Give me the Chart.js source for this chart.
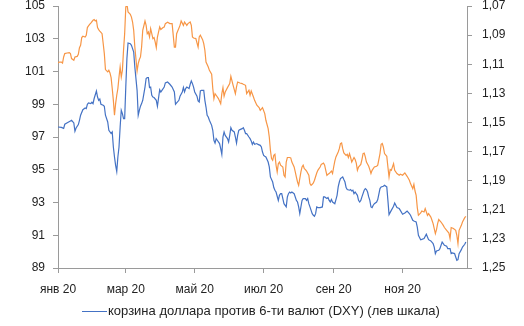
<!DOCTYPE html>
<html lang="ru">
<head>
<meta charset="utf-8">
<title>DXY и EUR/USD, 2020</title>
<script src="https://cdn.jsdelivr.net/npm/chart.js@4.4.1/dist/chart.umd.min.js"></script>
<style>
  html, body { margin: 0; padding: 0; background: #fff; }
  #wrap { position: relative; width: 524px; height: 326px; }
  #legend {
    position: absolute; left: 82px; top: 303px;
    font: 13px "Liberation Sans", Arial, sans-serif; color: #222;
    line-height: 16px; white-space: nowrap;
  }
  #legend .swatch {
    display: inline-block; width: 25px; height: 0;
    border-top: 1.3px solid #4472C4; vertical-align: middle; margin-right: 1px;
  }
</style>
</head>
<body>
<div id="wrap">
  <canvas id="chart" width="524" height="326"></canvas>
  <div id="legend"><span class="swatch"></span>корзина доллара против 6-ти валют (DXY) (лев шкала)</div>
</div>
<script>
// дни от 1 января 2020
const tickDays = [0, 60, 121, 182, 244, 305];
const tickLabels = ['янв 20', 'мар 20', 'май 20', 'июл 20', 'сен 20', 'ноя 20'];

// DXY (левая шкала)
const dxyDays = [0,3,5,6,9,11,12,14,15,16,18,19,20,22,24,25,26,27,29,30,31,32,34,35,36,37,38,40,41,42,44,45,47,48,49,50,51,52,53,54,55,56,57,58,59,60,61,62,64,65,66,67,68,70,71,72,73,74,75,77,78,79,80,81,82,83,84,85,87,88,90,91,92,94,95,97,99,101,103,104,105,107,108,110,111,112,113,114,116,117,118,119,120,121,123,124,125,126,127,129,130,131,132,133,134,136,137,138,139,140,141,143,144,145,146,147,148,150,151,152,153,154,156,157,158,159,160,161,163,164,165,166,167,169,170,171,172,173,174,176,177,179,180,181,182,183,184,186,187,188,190,191,192,193,195,196,197,198,199,200,202,203,204,205,206,207,209,210,211,212,213,214,215,216,217,219,220,221,222,223,225,226,227,228,229,230,232,234,235,236,238,239,240,241,242,243,245,246,247,248,249,250,252,253,254,255,256,258,259,260,261,262,263,265,266,267,268,269,271,272,273,274,275,276,277,278,279,280,282,283,285,286,288,289,291,292,293,295,297,298,300,302,303,305,307,309,311,312,314,315,317,318,319,321,322,324,326,327,328,330,332,333,334,335,337,338,340,341,342,344,345,347,348,349,351,352,353,354,355,357,358,360,361];
const dxyValues = [97.61,97.59,97.53,97.78,97.90,97.98,98.02,97.86,97.35,97.55,97.76,98.02,98.33,98.67,98.77,98.73,99.00,99.08,99.04,99.12,99.04,99.35,99.81,99.44,99.24,99.32,99.00,98.94,98.88,98.33,97.92,97.41,97.21,97.31,96.39,95.78,95.27,94.90,95.78,96.39,97.61,98.63,98.43,98.12,98.12,100.05,101.79,102.74,102.70,102.60,102.40,102.19,101.27,99.85,98.33,98.63,98.88,99.04,99.24,100.05,100.57,100.63,100.63,100.02,100.05,99.55,99.44,99.41,99.24,98.88,99.89,99.75,99.85,100.05,100.30,100.36,100.22,100.05,99.75,99.00,99.08,99.24,99.49,99.75,100.02,99.75,99.96,100.05,99.96,100.22,100.42,100.26,100.05,99.75,99.49,99.20,99.14,99.81,99.85,99.85,99.24,98.83,98.33,98.22,98.02,97.71,97.41,96.80,96.63,96.90,96.80,96.60,96.29,95.94,97.00,97.31,97.10,96.90,96.69,97.10,97.57,97.41,97.31,97.00,96.63,97.10,97.41,97.45,97.51,97.57,97.41,97.21,97.21,97.00,96.90,96.76,96.55,96.69,96.55,96.60,96.55,96.49,96.39,96.08,95.88,95.82,95.78,95.47,95.17,94.56,94.25,93.91,93.75,93.64,93.13,93.44,93.54,93.54,93.24,92.93,92.73,93.34,93.54,93.64,93.58,93.64,93.54,93.34,93.13,93.03,92.73,92.32,92.73,93.13,93.24,93.24,93.13,93.24,92.93,92.73,92.32,92.22,92.16,92.32,92.73,92.69,92.69,92.73,93.34,93.34,93.24,93.30,93.13,93.03,93.18,93.03,92.93,93.18,93.44,93.95,94.25,94.46,94.56,94.40,94.25,93.91,93.79,93.75,93.79,93.70,93.75,93.54,93.64,93.44,93.13,93.03,93.13,93.34,93.75,93.85,93.79,93.64,93.34,93.13,92.73,92.69,92.83,92.93,93.03,93.18,93.85,93.95,93.99,94.05,93.95,93.13,92.26,92.52,92.77,92.97,92.69,92.63,92.52,92.28,92.36,92.48,92.32,92.22,91.91,91.87,91.81,91.50,91.00,90.73,90.75,90.80,91.06,90.89,90.73,90.65,90.49,90.28,89.88,90.04,90.08,90.18,90.59,90.49,90.39,90.33,90.18,90.18,89.88,89.92,89.88,89.67,89.47,89.51,89.88,90.12,90.28,90.45,90.59];

// EUR/USD (правая шкала, перевёрнутая)
const eurDays = [0,1,3,4,5,6,8,10,11,12,14,15,17,18,19,20,21,22,24,25,26,27,28,29,31,32,33,34,35,36,37,38,39,40,41,42,44,45,46,47,48,49,50,51,52,53,54,55,56,57,58,59,60,61,62,64,65,66,67,68,70,71,72,73,74,75,77,78,79,80,81,82,84,85,86,87,88,90,91,92,93,94,95,97,99,101,103,104,105,108,109,111,112,114,115,117,118,119,120,122,124,125,126,128,129,130,131,133,134,136,137,138,139,140,142,144,145,146,147,148,150,152,153,155,157,158,159,161,163,164,166,167,169,170,171,173,174,176,178,179,181,183,184,186,187,188,189,190,191,192,193,194,195,196,197,199,200,201,202,203,205,206,207,209,210,211,212,213,215,216,217,218,219,220,222,223,224,225,226,227,229,230,231,232,233,235,236,237,238,239,240,242,243,244,245,246,248,249,250,251,252,253,255,256,257,258,259,260,262,263,264,265,266,268,269,270,271,272,273,275,276,277,278,280,282,283,285,286,287,288,289,291,292,293,294,295,297,298,300,302,303,305,307,309,311,312,314,315,316,317,318,319,321,322,324,325,327,328,330,331,332,334,335,336,337,339,341,342,344,346,347,348,350,352,353,354,355,357,358,360,361];
const eurValues = [1.1092,1.1085,1.1085,1.1092,1.1050,1.1027,1.1023,1.1020,1.1027,1.1061,1.1073,1.1050,1.1046,1.1032,1.0986,1.0970,1.0917,1.0908,1.0913,1.0901,1.0848,1.0837,1.0826,1.0817,1.0798,1.0793,1.0803,1.0798,1.0848,1.0862,1.0872,1.0881,1.0890,1.0958,1.1027,1.1137,1.1153,1.1142,1.1160,1.1192,1.1267,1.1348,1.1451,1.1371,1.1313,1.1267,1.1188,1.1119,1.1188,1.1142,1.1004,1.0890,1.0707,1.0685,1.0741,1.0757,1.0776,1.0810,1.0867,1.0982,1.1147,1.1096,1.1068,1.1050,1.0982,1.0867,1.0803,1.0833,1.0890,1.0879,1.0913,1.0855,1.0924,1.0917,1.0947,1.0986,1.0913,1.0844,1.0862,1.0855,1.0848,1.0844,1.0821,1.0812,1.0821,1.0821,1.0982,1.0982,1.0890,1.0833,1.0803,1.0833,1.0810,1.0833,1.0821,1.0810,1.0833,1.0913,1.0920,1.0924,1.0982,1.0913,1.0901,1.0931,1.0958,1.1004,1.1085,1.1119,1.1142,1.1169,1.1267,1.1336,1.1302,1.1313,1.1336,1.1371,1.1302,1.1261,1.1320,1.1291,1.1261,1.1233,1.1183,1.1245,1.1302,1.1256,1.1222,1.1229,1.1233,1.1238,1.1245,1.1302,1.1279,1.1313,1.1284,1.1325,1.1348,1.1382,1.1398,1.1417,1.1398,1.1439,1.1485,1.1542,1.1600,1.1691,1.1748,1.1760,1.1726,1.1719,1.1794,1.1840,1.1783,1.1772,1.1794,1.1806,1.1863,1.1875,1.1772,1.1741,1.1741,1.1744,1.1772,1.1806,1.1840,1.1875,1.1909,1.1932,1.1840,1.1806,1.1794,1.1817,1.1824,1.1834,1.1863,1.1920,1.1932,1.1925,1.1916,1.1897,1.1847,1.1829,1.1817,1.1806,1.1788,1.1779,1.1794,1.1829,1.1863,1.1856,1.1851,1.1834,1.1851,1.1806,1.1765,1.1737,1.1703,1.1680,1.1645,1.1641,1.1680,1.1710,1.1726,1.1719,1.1741,1.1714,1.1741,1.1772,1.1741,1.1755,1.1779,1.1829,1.1806,1.1788,1.1755,1.1714,1.1710,1.1737,1.1772,1.1801,1.1824,1.1851,1.1829,1.1806,1.1801,1.1794,1.1714,1.1650,1.1645,1.1669,1.1714,1.1733,1.1806,1.1875,1.1824,1.1829,1.1783,1.1829,1.1851,1.1863,1.1856,1.1863,1.1847,1.1870,1.1897,1.1920,1.1955,1.1925,1.1971,1.2001,1.2085,1.2138,1.2122,1.2108,1.2115,1.2092,1.2138,1.2126,1.2150,1.2172,1.2195,1.2264,1.2236,1.2195,1.2167,1.2184,1.2207,1.2222,1.2241,1.2260,1.2298,1.2222,1.2229,1.2241,1.2275,1.2332,1.2241,1.2207,1.2184,1.2154,1.2145];

const FONT = { family: '"Liberation Sans", Arial, sans-serif', size: 12 };
const AXIS_GREY = '#9a9a9a';
const TEXT = '#222';

const toPoints = (days, vals) => days.map((d, i) => ({ x: d, y: vals[i] }));

new Chart(document.getElementById('chart'), {
    type: 'line',
    data: {
        datasets: [
            {
                label: 'корзина доллара против 6-ти валют (DXY) (лев шкала)',
                data: toPoints(dxyDays, dxyValues),
                yAxisID: 'yL',
                borderColor: '#4472C4',
                borderWidth: 1.2,
                pointRadius: 0,
                tension: 0,
            },
            {
                label: 'EUR/USD (прав шкала)',
                data: toPoints(eurDays, eurValues),
                yAxisID: 'yR',
                borderColor: '#F79646',
                borderWidth: 1.2,
                pointRadius: 0,
                tension: 0,
            },
        ],
    },
    options: {
        responsive: false,
        animation: false,
        layout: { padding: { top: 6, left: 0, right: 0, bottom: 0 } },
        plugins: {
            legend: { display: false },
            tooltip: { enabled: false },
        },
        scales: {
            x: {
                type: 'linear',
                min: 0,
                max: 362,
                border: { color: AXIS_GREY, width: 1 },
                grid: { drawOnChartArea: false, drawTicks: true, tickLength: 5, color: AXIS_GREY },
                afterBuildTicks: (scale) => {
                    scale.ticks = tickDays.map((v) => ({ value: v }));
                },
                ticks: {
                    autoSkip: false,
                    maxRotation: 0,
                    padding: 9,
                    color: TEXT,
                    font: FONT,
                    callback: (v, i) => tickLabels[i],
                },
                afterFit: (scale) => {
                    scale.height = 58;
                    scale.paddingLeft = 0;
                    scale.paddingRight = 0;
                },
            },
            yL: {
                position: 'left',
                min: 89,
                max: 105,
                border: { color: AXIS_GREY, width: 1 },
                grid: { drawOnChartArea: false, drawTicks: true, tickLength: 5, color: AXIS_GREY },
                ticks: { stepSize: 2, padding: 8, color: TEXT, font: FONT },
                afterFit: (scale) => {
                    scale.width = 58;
                    scale.paddingTop = 0;
                    scale.paddingBottom = 0;
                },
            },
            yR: {
                position: 'right',
                min: 1.07,
                max: 1.25,
                reverse: true,
                border: { color: AXIS_GREY, width: 1 },
                grid: { drawOnChartArea: false, drawTicks: true, tickLength: 5, color: AXIS_GREY },
                ticks: {
                    stepSize: 0.02,
                    padding: 10,
                    color: TEXT,
                    font: FONT,
                    callback: (v) => v.toFixed(2).replace('.', ','),
                },
                afterFit: (scale) => {
                    scale.width = 57;
                    scale.paddingTop = 0;
                    scale.paddingBottom = 0;
                },
            },
        },
    },
});
</script>
</body>
</html>
